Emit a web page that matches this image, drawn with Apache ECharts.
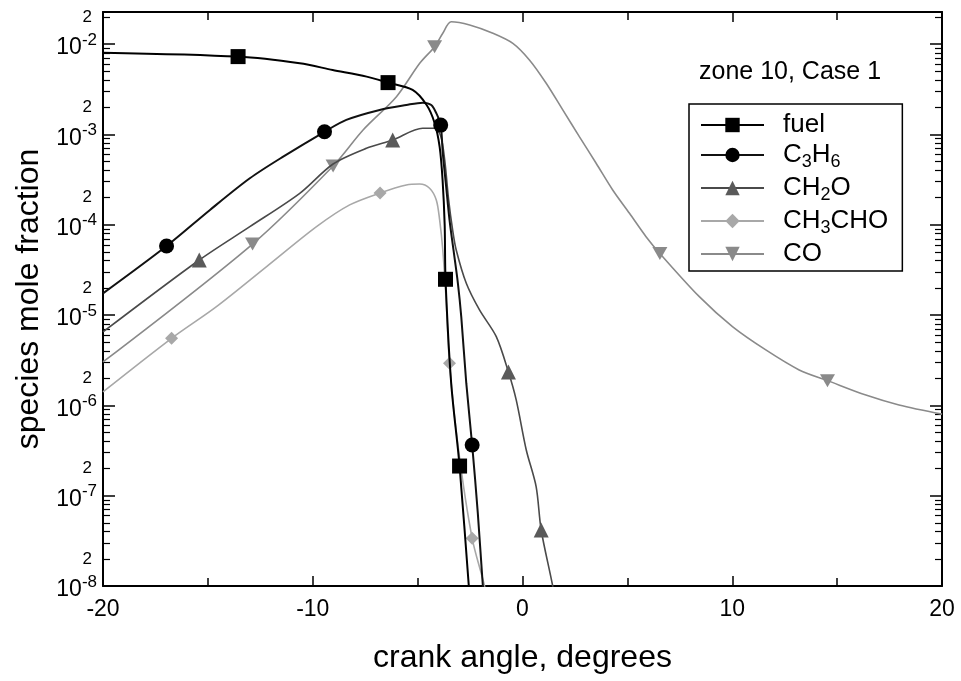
<!DOCTYPE html>
<html>
<head>
<meta charset="utf-8">
<script src="https://cdn.jsdelivr.net/npm/echarts@6/dist/echarts.min.js"></script>
<style>
  html, body { margin: 0; padding: 0; background: #fff; }
  #chart { width: 961px; height: 681px; }
</style>
</head>
<body>
<div id="chart"></div>
<script>
// Species mole fractions versus crank angle, zone 10, Case 1.
// Each curve: crank angle (deg), mole fraction, and the indices that carry a symbol.
const fuelAngle = [-20, -13.56, -10.62, -9.05, -7.43, -6.41, -5.24, -4.57, -4.19, -3.95, -3.81, -3.71, -3.67, -3.40, -3.00, -2.56, -2.50];
const fuelFrac  = [8.05e-3, 7.28e-3, 6.14e-3, 5.18e-3, 4.37e-3, 3.75e-3, 3.11e-3, 2.12e-3, 1.34e-3, 7.28e-4, 3.13e-4, 9.95e-5, 2.49e-5, 1.76e-6, 2.13e-7, 1.0e-8, 7.0e-9];
const fuelMarks = [1, 5, 12, 14];

const c3h6Angle = [-20, -16.97, -14.90, -13.0, -11.41, -9.44, -8.40, -6.81, -5.54, -4.75, -4.35, -4.11, -3.90, -3.80, -3.64, -3.48, -3.29, -3.08, -2.92, -2.68, -2.40, -2.13, -1.89, -1.81];
const c3h6Frac  = [1.74e-5, 5.82e-5, 1.46e-4, 3.27e-4, 5.68e-4, 1.07e-3, 1.45e-3, 1.87e-3, 2.12e-3, 2.25e-3, 2.12e-3, 1.72e-3, 1.27e-3, 6.19e-4, 2.64e-4, 1.13e-4, 5.26e-5, 2.25e-5, 9.6e-6, 1.76e-6, 3.64e-7, 6.38e-8, 1.0e-8, 6.2e-9];
const c3h6Marks = [1, 5, 12, 20];

const ch2oAngle = [-20, -15.41, -13.0, -10.62, -9.03, -7.44, -6.19, -4.76, -4.19, -3.90, -3.71, -3.52, -3.33, -3.16, -2.68, -2.05, -1.25, -0.67, -0.30, 0.18, 0.65, 0.89, 1.44, 1.52];
const ch2oFrac  = [6.50e-6, 4.07e-5, 9.53e-5, 2.23e-4, 4.71e-4, 7.03e-4, 8.69e-4, 1.17e-3, 1.17e-3, 9.62e-4, 5.22e-4, 1.88e-4, 8.74e-5, 5.26e-5, 2.25e-5, 1.14e-5, 5.77e-6, 2.34e-6, 1.15e-6, 3.21e-7, 1.26e-7, 4.17e-8, 1.0e-8, 7.0e-9];
const ch2oMarks = [1, 6, 17, 21];

const ch3choAngle = [-20, -16.73, -14.59, -12.20, -9.82, -8.24, -6.79, -5.54, -4.90, -4.43, -4.11, -3.95, -3.80, -3.64, -3.48, -3.05, -2.40, -1.81, -1.71];
const ch3choFrac  = [1.41e-6, 5.53e-6, 1.24e-5, 3.44e-5, 9.53e-5, 1.66e-4, 2.25e-4, 2.76e-4, 2.83e-4, 2.54e-4, 1.88e-4, 1.13e-4, 5.26e-5, 1.47e-5, 2.92e-6, 3.21e-7, 3.37e-8, 1.0e-8, 7.0e-9];
const ch3choMarks = [1, 6, 14, 16];

const coAngle = [-20, -12.87, -9.03, -7.60, -6.01, -4.90, -4.19, -3.80, -3.40, -2.52, -1.41, -0.46, 0.33, 1.13, 1.92, 2.71, 3.51, 4.30, 5.10, 5.89, 6.55, 8.43, 10.01, 11.60, 13.19, 14.54, 16.37, 17.95, 20];
const coFrac  = [3.03e-6, 6.12e-5, 4.48e-4, 1.12e-3, 2.62e-3, 6.14e-3, 9.38e-3, 1.32e-2, 1.77e-2, 1.63e-2, 1.32e-2, 1.02e-2, 6.68e-3, 3.69e-3, 1.87e-3, 9.46e-4, 4.80e-4, 2.43e-4, 1.34e-4, 7.38e-5, 4.81e-5, 1.60e-5, 7.45e-6, 4.11e-6, 2.47e-6, 1.88e-6, 1.30e-6, 1.01e-6, 8.0e-7];
const coMarks = [1, 2, 6, 20, 25];

// Axis ranges and tick positions
const angleTicks = [-20, -10, 0, 10, 20];
const fracMin = 1e-8;
const fracMax = 0.0227;
const decadeExps = [-8, -7, -6, -5, -4, -3, -2];

const FONT = '"Liberation Sans", Arial, Helvetica, sans-serif';

const decades = decadeExps.map(e => Math.pow(10, e));
const minorVals = [];
decadeExps.forEach(e => {
  for (let k = 2; k <= 9; k++) {
    const v = k * Math.pow(10, e);
    if (v <= fracMax) minorVals.push(v);
  }
});
const twoVals = decadeExps.map(e => 2 * Math.pow(10, e)).filter(v => v <= fracMax);

function points(angle, frac, marks) {
  return angle.map((a, i) => marks.indexOf(i) >= 0
    ? [a, frac[i]]
    : { value: [a, frac[i]], symbol: 'none' });
}

function yLabel(v) {
  const e = Math.floor(Math.log10(v) + 1e-6);
  const m = Math.round(v / Math.pow(10, e));
  if (m === 1) return '{b|10}{e|' + e + '}';
  return '{t|' + m + '}';
}

const chart = echarts.init(document.getElementById('chart'), null, { renderer: 'canvas' });

const frameLine = { show: true, onZero: false, lineStyle: { color: '#000', width: 2 } };
const plotRect = { left: 103, right: 19, top: 12, bottom: 95 };

function yAxisBase(pos, extra) {
  return Object.assign({
    type: 'log', logBase: 10, min: fracMin, max: fracMax, position: pos, gridIndex: 0,
    axisLine: frameLine, splitLine: { show: false }, axisLabel: { show: false },
    axisTick: { show: false }
  }, extra);
}

// minor ticks at 2..9 x 10^n, placed on a linear axis in decades over the same rectangle
function minorAxis(pos) {
  return {
    type: 'value', gridIndex: 1, position: pos,
    min: Math.log10(fracMin), max: Math.log10(fracMax),
    axisLine: { show: false, onZero: false },
    axisLabel: { show: false }, splitLine: { show: false },
    axisTick: { show: true, inside: true, length: 7,
                customValues: minorVals.map(v => Math.log10(v)),
                lineStyle: { color: '#000', width: 1.2 } }
  };
}

const majorTick = { show: true, inside: true, length: 12, customValues: decades,
                    lineStyle: { color: '#000', width: 1.5 } };

const option = {
  animation: false,
  backgroundColor: '#fff',
  textStyle: { fontFamily: FONT, color: '#000' },
  title: {
    text: 'zone 10, Case 1', left: 694, top: 55,
    textStyle: { fontFamily: FONT, fontSize: 25, fontWeight: 'normal', color: '#000' }
  },
  grid: [Object.assign({}, plotRect), Object.assign({}, plotRect)],
  legend: {
    orient: 'vertical', left: 689, top: 104,
    padding: [8, 14, 4, 11],
    itemWidth: 63, itemHeight: 18, itemGap: 4,
    borderColor: '#000', borderWidth: 1.5,
    data: ['fuel', 'C3H6', 'CH2O', 'CH3CHO', 'CO'],
    formatter: function (name) {
      return {
        fuel: 'fuel',
        C3H6: 'C{s|3}H{s|6}',
        CH2O: 'CH{s|2}O',
        CH3CHO: 'CH{s|3}CHO',
        CO: 'CO'
      }[name];
    },
    textStyle: {
      fontFamily: FONT, fontSize: 26, color: '#000', padding: [0, 0, 0, 14],
      rich: { s: { fontFamily: FONT, fontSize: 18, color: '#000', padding: [14, 0, 0, 0] } }
    }
  },
  xAxis: [
    {
      type: 'value', gridIndex: 0, min: -20, max: 20, interval: 10, position: 'bottom',
      name: 'crank angle, degrees', nameLocation: 'middle', nameGap: 56,
      nameTextStyle: { fontFamily: FONT, fontSize: 32, color: '#000' },
      axisLine: frameLine,
      axisTick: { show: true, inside: true, length: 10, lineStyle: { color: '#000', width: 1.5 } },
      minorTick: { show: true, splitNumber: 2, length: 8, lineStyle: { color: '#000', width: 1.5 } },
      axisLabel: { fontFamily: FONT, fontSize: 23, color: '#000', margin: 12,
                   customValues: angleTicks },
      splitLine: { show: false }
    },
    {
      type: 'value', gridIndex: 0, min: -20, max: 20, interval: 10, position: 'top',
      axisLine: frameLine,
      axisTick: { show: true, inside: true, length: 10, lineStyle: { color: '#000', width: 1.5 } },
      minorTick: { show: true, splitNumber: 2, length: 8, lineStyle: { color: '#000', width: 1.5 } },
      axisLabel: { show: false },
      splitLine: { show: false }
    },
    {
      type: 'value', gridIndex: 1, min: -20, max: 20, show: false
    }
  ],
  yAxis: [
    yAxisBase('left', {
      name: 'species mole fraction', nameLocation: 'middle', nameGap: 57,
      nameTextStyle: { fontFamily: FONT, fontSize: 32, color: '#000' },
      axisTick: majorTick,
      axisLabel: {
        show: true, margin: 6, customValues: decades.concat(twoVals),
        formatter: yLabel,
        rich: {
          b: { fontFamily: FONT, fontSize: 23, color: '#000', padding: [8, 0, 0, 0] },
          e: { fontFamily: FONT, fontSize: 17, color: '#000', padding: [0, 0, 8, 0] },
          t: { fontFamily: FONT, fontSize: 17, color: '#000', padding: [0, 5, 0, 0] }
        }
      }
    }),
    yAxisBase('right', { axisTick: majorTick }),
    minorAxis('left'),
    minorAxis('right')
  ],
  series: [
    {
      name: 'CO', type: 'line', data: points(coAngle, coFrac, coMarks),
      symbol: 'triangle', symbolRotate: 180, symbolSize: [15, 13], smooth: 0.3,
      lineStyle: { color: '#8a8a8a', width: 1.6 }, itemStyle: { color: '#8a8a8a' }, z: 2
    },
    {
      name: 'CH3CHO', type: 'line', data: points(ch3choAngle, ch3choFrac, ch3choMarks),
      symbol: 'diamond', symbolSize: 13, smooth: 0.3,
      lineStyle: { color: '#a8a8a8', width: 1.6 }, itemStyle: { color: '#a8a8a8' }, z: 3
    },
    {
      name: 'CH2O', type: 'line', data: points(ch2oAngle, ch2oFrac, ch2oMarks),
      symbol: 'triangle', symbolSize: 15, smooth: 0.3,
      lineStyle: { color: '#4a4a4a', width: 1.6 }, itemStyle: { color: '#5a5a5a' }, z: 4
    },
    {
      name: 'C3H6', type: 'line', data: points(c3h6Angle, c3h6Frac, c3h6Marks),
      symbol: 'circle', symbolSize: 15, smooth: 0.3,
      lineStyle: { color: '#111', width: 2 }, itemStyle: { color: '#000' }, z: 5
    },
    {
      name: 'fuel', type: 'line', data: points(fuelAngle, fuelFrac, fuelMarks),
      symbol: 'rect', symbolSize: 15, smooth: 0.3,
      lineStyle: { color: '#000', width: 2 }, itemStyle: { color: '#000' }, z: 6
    }
  ]
};

chart.setOption(option);
</script>
</body>
</html>
